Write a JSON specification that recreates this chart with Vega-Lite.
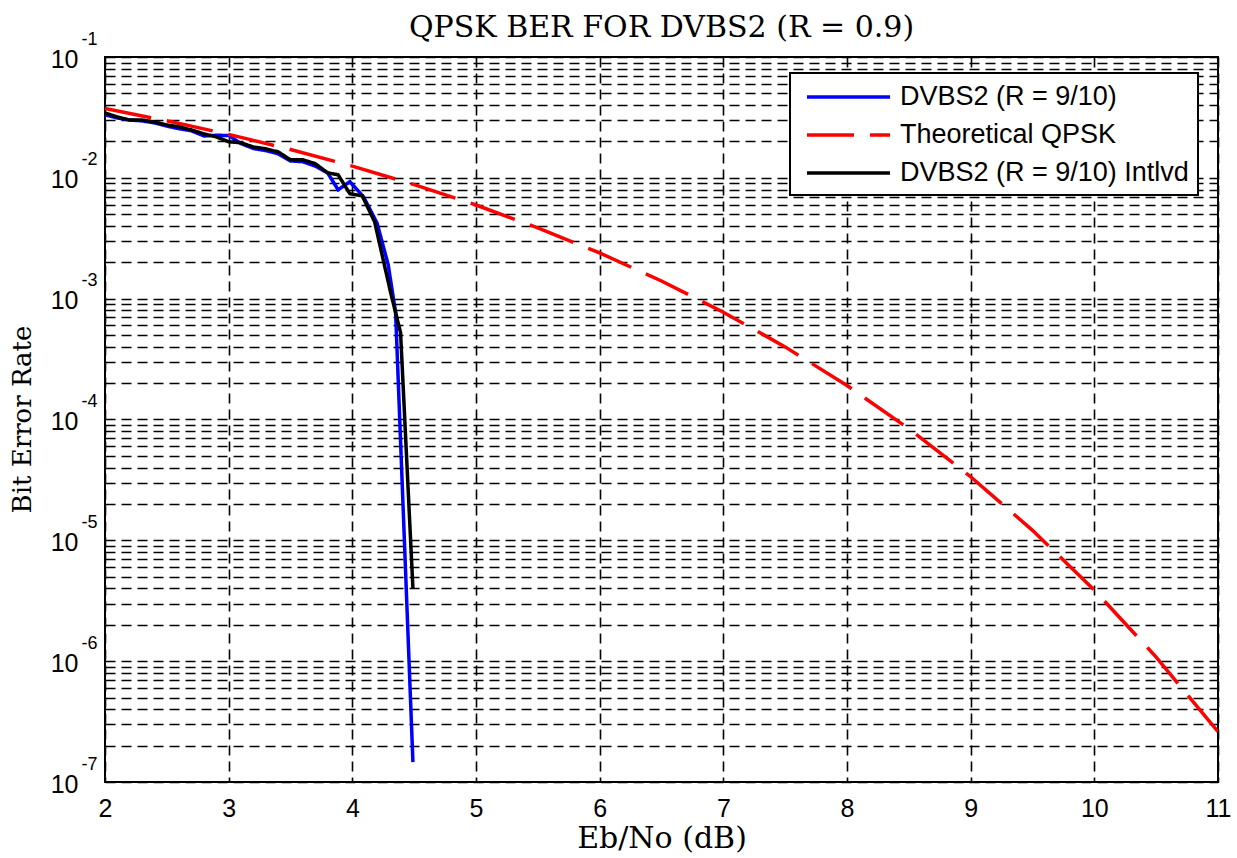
{
  "$schema": "https://vega.github.io/schema/vega-lite/v6.json",
  "width": 1113,
  "height": 725,
  "autosize": {"type": "none"},
  "padding": {"left": 105, "top": 57, "right": 19, "bottom": 76},
  "background": "white",
  "title": {
    "text": "QPSK BER FOR DVBS2 (R = 0.9)",
    "frame": "group",
    "font": "DejaVu Serif",
    "fontSize": 30,
    "fontWeight": "normal",
    "color": "black",
    "anchor": "middle",
    "baseline": "alphabetic",
    "offset": 0,
    "dy": 37
  },
  "config": {
    "view": {"stroke": "black", "strokeWidth": 2}
  },
  "data": {
    "values": [
      {"ebno": 2.0, "ber": 0.0332, "series": "DVBS2 (R = 9/10)"},
      {"ebno": 2.1, "ber": 0.0313, "series": "DVBS2 (R = 9/10)"},
      {"ebno": 2.2, "ber": 0.0301, "series": "DVBS2 (R = 9/10)"},
      {"ebno": 2.3, "ber": 0.0296, "series": "DVBS2 (R = 9/10)"},
      {"ebno": 2.4, "ber": 0.0285, "series": "DVBS2 (R = 9/10)"},
      {"ebno": 2.5, "ber": 0.0268, "series": "DVBS2 (R = 9/10)"},
      {"ebno": 2.6, "ber": 0.0255, "series": "DVBS2 (R = 9/10)"},
      {"ebno": 2.7, "ber": 0.0245, "series": "DVBS2 (R = 9/10)"},
      {"ebno": 2.8, "ber": 0.0222, "series": "DVBS2 (R = 9/10)"},
      {"ebno": 2.9, "ber": 0.0225, "series": "DVBS2 (R = 9/10)"},
      {"ebno": 3.0, "ber": 0.0224, "series": "DVBS2 (R = 9/10)"},
      {"ebno": 3.1, "ber": 0.0192, "series": "DVBS2 (R = 9/10)"},
      {"ebno": 3.2, "ber": 0.0175, "series": "DVBS2 (R = 9/10)"},
      {"ebno": 3.3, "ber": 0.0168, "series": "DVBS2 (R = 9/10)"},
      {"ebno": 3.4, "ber": 0.0158, "series": "DVBS2 (R = 9/10)"},
      {"ebno": 3.5, "ber": 0.0138, "series": "DVBS2 (R = 9/10)"},
      {"ebno": 3.6, "ber": 0.0136, "series": "DVBS2 (R = 9/10)"},
      {"ebno": 3.7, "ber": 0.0125, "series": "DVBS2 (R = 9/10)"},
      {"ebno": 3.8, "ber": 0.011, "series": "DVBS2 (R = 9/10)"},
      {"ebno": 3.885, "ber": 0.00796, "series": "DVBS2 (R = 9/10)"},
      {"ebno": 3.98, "ber": 0.0093, "series": "DVBS2 (R = 9/10)"},
      {"ebno": 4.09, "ber": 0.00697, "series": "DVBS2 (R = 9/10)"},
      {"ebno": 4.2, "ber": 0.00422, "series": "DVBS2 (R = 9/10)"},
      {"ebno": 4.29, "ber": 0.00191, "series": "DVBS2 (R = 9/10)"},
      {"ebno": 4.35, "ber": 0.000765, "series": "DVBS2 (R = 9/10)"},
      {"ebno": 4.49, "ber": 1.46e-7, "series": "DVBS2 (R = 9/10)"},
      {"ebno": 2.0, "ber": 0.0375, "series": "Theoretical QPSK"},
      {"ebno": 2.5, "ber": 0.02965, "series": "Theoretical QPSK"},
      {"ebno": 3.0, "ber": 0.02288, "series": "Theoretical QPSK"},
      {"ebno": 3.5, "ber": 0.01717, "series": "Theoretical QPSK"},
      {"ebno": 4.0, "ber": 0.0125, "series": "Theoretical QPSK"},
      {"ebno": 4.5, "ber": 0.00879, "series": "Theoretical QPSK"},
      {"ebno": 5.0, "ber": 0.00596, "series": "Theoretical QPSK"},
      {"ebno": 5.5, "ber": 0.00386, "series": "Theoretical QPSK"},
      {"ebno": 6.0, "ber": 0.00239, "series": "Theoretical QPSK"},
      {"ebno": 6.5, "ber": 0.0014, "series": "Theoretical QPSK"},
      {"ebno": 7.0, "ber": 0.000773, "series": "Theoretical QPSK"},
      {"ebno": 7.5, "ber": 0.000399, "series": "Theoretical QPSK"},
      {"ebno": 8.0, "ber": 0.000191, "series": "Theoretical QPSK"},
      {"ebno": 8.5, "ber": 8.4e-5, "series": "Theoretical QPSK"},
      {"ebno": 9.0, "ber": 3.36e-5, "series": "Theoretical QPSK"},
      {"ebno": 9.5, "ber": 1.21e-5, "series": "Theoretical QPSK"},
      {"ebno": 10.0, "ber": 3.87e-6, "series": "Theoretical QPSK"},
      {"ebno": 10.5, "ber": 1.08e-6, "series": "Theoretical QPSK"},
      {"ebno": 11.0, "ber": 2.61e-7, "series": "Theoretical QPSK"},
      {"ebno": 2.0, "ber": 0.0344, "series": "DVBS2 (R = 9/10) Intlvd"},
      {"ebno": 2.1, "ber": 0.0319, "series": "DVBS2 (R = 9/10) Intlvd"},
      {"ebno": 2.2, "ber": 0.0301, "series": "DVBS2 (R = 9/10) Intlvd"},
      {"ebno": 2.3, "ber": 0.0301, "series": "DVBS2 (R = 9/10) Intlvd"},
      {"ebno": 2.4, "ber": 0.029, "series": "DVBS2 (R = 9/10) Intlvd"},
      {"ebno": 2.5, "ber": 0.0274, "series": "DVBS2 (R = 9/10) Intlvd"},
      {"ebno": 2.6, "ber": 0.0264, "series": "DVBS2 (R = 9/10) Intlvd"},
      {"ebno": 2.7, "ber": 0.0249, "series": "DVBS2 (R = 9/10) Intlvd"},
      {"ebno": 2.8, "ber": 0.0231, "series": "DVBS2 (R = 9/10) Intlvd"},
      {"ebno": 2.9, "ber": 0.0218, "series": "DVBS2 (R = 9/10) Intlvd"},
      {"ebno": 3.0, "ber": 0.0199, "series": "DVBS2 (R = 9/10) Intlvd"},
      {"ebno": 3.1, "ber": 0.0195, "series": "DVBS2 (R = 9/10) Intlvd"},
      {"ebno": 3.2, "ber": 0.018, "series": "DVBS2 (R = 9/10) Intlvd"},
      {"ebno": 3.3, "ber": 0.0174, "series": "DVBS2 (R = 9/10) Intlvd"},
      {"ebno": 3.4, "ber": 0.0164, "series": "DVBS2 (R = 9/10) Intlvd"},
      {"ebno": 3.5, "ber": 0.0141, "series": "DVBS2 (R = 9/10) Intlvd"},
      {"ebno": 3.6, "ber": 0.0141, "series": "DVBS2 (R = 9/10) Intlvd"},
      {"ebno": 3.7, "ber": 0.0131, "series": "DVBS2 (R = 9/10) Intlvd"},
      {"ebno": 3.8, "ber": 0.011, "series": "DVBS2 (R = 9/10) Intlvd"},
      {"ebno": 3.885, "ber": 0.0106, "series": "DVBS2 (R = 9/10) Intlvd"},
      {"ebno": 3.98, "ber": 0.00738, "series": "DVBS2 (R = 9/10) Intlvd"},
      {"ebno": 4.08, "ber": 0.0071, "series": "DVBS2 (R = 9/10) Intlvd"},
      {"ebno": 4.18, "ber": 0.00433, "series": "DVBS2 (R = 9/10) Intlvd"},
      {"ebno": 4.31, "ber": 0.00112, "series": "DVBS2 (R = 9/10) Intlvd"},
      {"ebno": 4.39, "ber": 0.000524, "series": "DVBS2 (R = 9/10) Intlvd"},
      {"ebno": 4.49, "ber": 4.0e-6, "series": "DVBS2 (R = 9/10) Intlvd"}
    ]
  },
  "encoding": {
    "x": {
      "field": "ebno",
      "type": "quantitative",
      "scale": {"domain": [2, 11], "nice": false, "zero": false},
      "axis": {
        "values": [2, 3, 4, 5, 6, 7, 8, 9, 10, 11],
        "title": "Eb/No (dB)",
        "titleFont": "DejaVu Serif",
        "titleFontSize": 30,
        "titleFontWeight": "normal",
        "titleColor": "black",
        "titleBaseline": "alphabetic",
        "titleY": 65,
        "labelFont": "Liberation Sans",
        "labelFontSize": 25,
        "labelColor": "black",
        "labelPadding": 14,
        "labelFlush": false,
        "labelOverlap": false,
        "ticks": false,
        "domain": false,
        "grid": true,
        "gridColor": "black",
        "gridDash": [10, 6],
        "gridWidth": 1.6,
        "gridOpacity": 1
      }
    }
  },
  "layer": [
    {
      "mark": {"type": "line", "strokeWidth": 3.5, "clip": true},
      "encoding": {
        "y": {
          "field": "ber",
          "type": "quantitative",
          "scale": {"type": "log", "domain": [1e-7, 0.1], "nice": false},
          "axis": {
            "orient": "left",
            "values": [1e-7, 2e-7, 3e-7, 4e-7, 5e-7, 6e-7, 7e-7, 8e-7, 9e-7,
                       1e-6, 2e-6, 3e-6, 4e-6, 5e-6, 6e-6, 7e-6, 8e-6, 9e-6,
                       1e-5, 2e-5, 3e-5, 4e-5, 5e-5, 6e-5, 7e-5, 8e-5, 9e-5,
                       1e-4, 2e-4, 3e-4, 4e-4, 5e-4, 6e-4, 7e-4, 8e-4, 9e-4,
                       1e-3, 2e-3, 3e-3, 4e-3, 5e-3, 6e-3, 7e-3, 8e-3, 9e-3,
                       1e-2, 2e-2, 3e-2, 4e-2, 5e-2, 6e-2, 7e-2, 8e-2, 9e-2, 0.1],
            "labelExpr": "abs(log(datum.value)/LN10 - round(log(datum.value)/LN10)) < 0.001 ? '10' : ''",
            "labelFont": "Liberation Sans",
            "labelFontSize": 25,
            "labelColor": "black",
            "labelPadding": 27,
            "labelBaseline": "middle",
            "labelOffset": 2,
            "labelFlush": false,
            "labelOverlap": false,
            "ticks": false,
            "domain": false,
            "grid": true,
            "gridColor": "black",
            "gridDash": [10, 6],
            "gridWidth": 1.6,
            "gridOpacity": 1,
            "title": "Bit Error Rate",
            "titleFont": "DejaVu Serif",
            "titleFontSize": 26,
            "titleFontWeight": "normal",
            "titleColor": "black",
            "titleAngle": 270,
            "titleBaseline": "middle",
            "titleAlign": "center",
            "titleX": -83,
            "titleY": 362
          }
        },
        "color": {
          "field": "series",
          "type": "nominal",
          "scale": {
            "domain": ["DVBS2 (R = 9/10)", "Theoretical QPSK", "DVBS2 (R = 9/10) Intlvd"],
            "range": ["#0000ff", "#ff0000", "#000000"]
          },
          "legend": {
            "title": null,
            "orient": "none",
            "legendX": 685,
            "legendY": 16,
            "fillColor": "white",
            "strokeColor": "black",
            "padding": 9,
            "symbolType": "M-0.54,0H5.85",
            "symbolSize": 676,
            "symbolStrokeWidth": 3.5,
            "labelFont": "Liberation Sans",
            "labelFontSize": 27,
            "labelColor": "black",
            "labelOffset": 71,
            "labelLimit": 500,
            "rowPadding": 10,
            "encode": {"legend": {"update": {"strokeWidth": {"value": 2}}}}
          }
        },
        "strokeDash": {
          "field": "series",
          "type": "nominal",
          "scale": {
            "domain": ["DVBS2 (R = 9/10)", "Theoretical QPSK", "DVBS2 (R = 9/10) Intlvd"],
            "range": [[1, 0], [47, 16], [1, 0]]
          },
          "legend": {
            "title": null,
            "orient": "none",
            "legendX": 685,
            "legendY": 16,
            "fillColor": "white",
            "strokeColor": "black",
            "padding": 9,
            "symbolType": "M-0.54,0H5.85",
            "symbolSize": 676,
            "symbolStrokeWidth": 3.5,
            "labelFont": "Liberation Sans",
            "labelFontSize": 27,
            "labelColor": "black",
            "labelOffset": 71,
            "labelLimit": 500,
            "rowPadding": 10,
            "encode": {"legend": {"update": {"strokeWidth": {"value": 2}}}}
          }
        }
      }
    },
    {
      "mark": {"type": "point", "opacity": 0},
      "encoding": {
        "y": {
          "field": "ber",
          "type": "quantitative",
          "scale": {"type": "log", "domain": [1e-7, 0.1], "nice": false},
          "axis": {
            "orient": "left",
            "values": [1e-7, 1e-6, 1e-5, 1e-4, 1e-3, 1e-2, 0.1],
            "labelExpr": "'' + round(log(datum.value)/LN10)",
            "labelFont": "Liberation Sans",
            "labelFontSize": 18,
            "labelColor": "black",
            "labelPadding": 8,
            "labelBaseline": "middle",
            "labelOffset": -18,
            "labelFlush": false,
            "labelOverlap": false,
            "ticks": false,
            "domain": false,
            "grid": false,
            "title": null
          }
        }
      }
    }
  ],
  "resolve": {"axis": {"y": "independent"}}
}
